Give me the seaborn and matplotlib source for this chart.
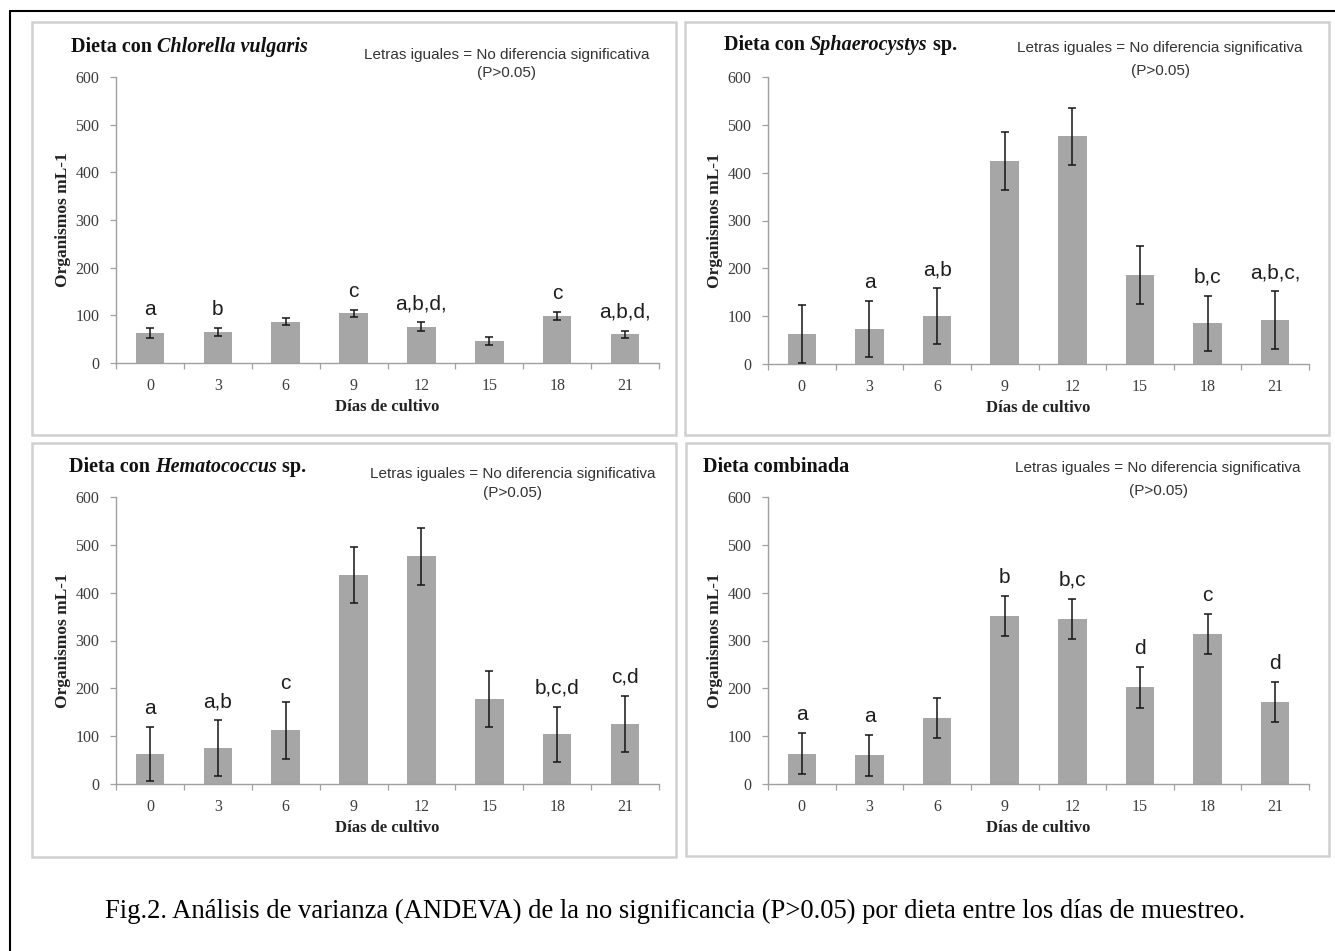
import numpy as np
import pandas as pd
import matplotlib
matplotlib.use("Agg")
import matplotlib.pyplot as plt
import seaborn as sns
from matplotlib.patches import Rectangle
from matplotlib.lines import Line2D

# ---------------- data ----------------
days = ["0", "3", "6", "9", "12", "15", "18", "21"]

chlorella_mean = [63, 65, 87, 104, 76, 46, 99, 60]
chlorella_sd = [10, 8, 8, 8, 9, 9, 8, 8]
chlorella_letters = ["a", "b", "", "c", "a,b,d,", "", "c", "a,b,d,"]

sphaero_mean = [63, 73, 100, 424, 476, 186, 85, 92]
sphaero_sd = [60, 59, 58, 60, 60, 60, 58, 60]
sphaero_letters = ["", "a", "a,b", "", "", "", "b,c", "a,b,c,"]

hemato_mean = [63, 75, 112, 437, 476, 178, 104, 125]
hemato_sd = [57, 58, 59, 59, 60, 59, 58, 59]
hemato_letters = ["a", "a,b", "c", "", "", "", "b,c,d", "c,d"]

comb_mean = [63, 60, 138, 352, 345, 202, 314, 172]
comb_sd = [43, 43, 42, 42, 42, 43, 42, 42]
comb_letters = ["a", "a", "", "b", "b,c", "d", "c", "d"]

titles = [
    ("Dieta con ", "Chlorella vulgaris", ""),
    ("Dieta con ", "Sphaerocystys", " sp."),
    ("Dieta con ", "Hematococcus", " sp."),
    ("Dieta combinada", "", ""),
]
note_line1 = "Letras iguales = No diferencia significativa"
note_line2 = "(P>0.05)"
xlabel = "Días de cultivo"
ylabel = "Organismos mL-1"
yticks = [0, 100, 200, 300, 400, 500, 600]
caption = ("Fig.2. Análisis de varianza (ANDEVA) de la no significancia (P>0.05) "
           "por dieta entre los días de muestreo.")

# ---------------- style ----------------
sns.set_style("white")
plt.rcParams["font.family"] = ["Liberation Serif", "DejaVu Serif"]

W, H = 1335, 951
fig = plt.figure(figsize=(W / 100, H / 100), dpi=100)
fig.patch.set_facecolor("white")

overlay = fig.add_axes([0, 0, 1, 1])
overlay.set_xlim(0, W)
overlay.set_ylim(H, 0)
overlay.axis("off")

# panel layout in pixels
axes_px = [(116, 77, 659, 363), (768, 77, 1309, 364),
           (116, 497, 659, 784), (768, 497, 1309, 784)]
boxes_px = [(32, 22, 676, 435), (685, 22, 1329, 435),
            (32, 443, 676, 857), (686, 443, 1329, 856)]
title_pos = [(71, 47), (724, 45), (69, 467), (703, 467)]
note_pos = [(507, 55, 73), (1160, 48, 71), (513, 474, 493), (1158, 468, 491)]

panels = [
    (chlorella_mean, chlorella_sd, chlorella_letters),
    (sphaero_mean, sphaero_sd, sphaero_letters),
    (hemato_mean, hemato_sd, hemato_letters),
    (comb_mean, comb_sd, comb_letters),
]

bar_color = "#a6a6a6"
axis_color = "#a0a0a0"
tick_label_color = "#3c3c3c"

# outer frame lines (left and top)
overlay.add_line(Line2D([10, 10], [11, H], color="black", lw=1.5))
overlay.add_line(Line2D([10, W], [11, 11], color="black", lw=1.5))

for k, ((mean, sd, letters), (l, t, r, b), box) in enumerate(zip(panels, axes_px, boxes_px)):
    # panel box
    bx0, by0, bx1, by1 = box
    overlay.add_patch(Rectangle((bx0, by0), bx1 - bx0, by1 - by0, fill=False,
                                edgecolor="#d0d0d0", lw=1.8))

    ax = fig.add_axes([l / W, 1 - b / H, (r - l) / W, (b - t) / H])
    ax.set_facecolor("none")
    df = pd.DataFrame({"day": days, "mean": mean, "sd": sd})
    sns.barplot(data=df, x="day", y="mean", order=days, color=bar_color,
                saturation=1, width=0.42, errorbar=None, ax=ax, edgecolor="none")
    xs = np.arange(len(days))
    ax.errorbar(xs, df["mean"], yerr=df["sd"], fmt="none", ecolor="#151515",
                elinewidth=1.1, capsize=3, capthick=1.1, zorder=3)
    for i, lab in enumerate(letters):
        if lab:
            ax.annotate(lab, xy=(xs[i], mean[i] + sd[i]), xytext=(0, 13),
                        textcoords="offset pixels", ha="center", va="baseline",
                        fontsize=15, family="Liberation Sans", color="#1e1e1e")

    ax.set_ylim(0, 600)
    ax.set_xlim(-0.5, len(days) - 0.5)
    ax.set_yticks(yticks)
    ax.set_yticklabels([str(v) for v in yticks])
    ax.set_xticks(xs)
    ax.set_xticklabels(days)
    ax.set_xticks(np.arange(-0.5, len(days), 1), minor=True)
    ax.tick_params(axis="y", which="major", length=4, width=0.9, color=axis_color,
                   pad=8, labelsize=11.5, labelcolor=tick_label_color, left=True)
    ax.tick_params(axis="x", which="major", length=0, pad=11, labelsize=11.5,
                   labelcolor=tick_label_color)
    ax.tick_params(axis="x", which="minor", length=4, width=0.9, color=axis_color,
                   direction="out", bottom=True)
    for side in ("top", "right"):
        ax.spines[side].set_visible(False)
    for side in ("left", "bottom"):
        ax.spines[side].set_color(axis_color)
        ax.spines[side].set_linewidth(1.0)

    ax.set_xlabel(xlabel, fontsize=12, fontweight="bold", color="#222222")
    ax.xaxis.set_label_coords(0.5, -44 / (b - t))
    ax.xaxis.label.set_va("center")
    ax.set_ylabel(ylabel, fontsize=12.5, fontweight="bold", color="#222222")
    ax.yaxis.set_label_coords(-53 / (r - l), 0.5)
    ax.yaxis.label.set_va("center")

    # title (mixed bold / bold italic)
    tx, ty = title_pos[k]
    p1, p2, p3 = titles[k]
    t1 = overlay.text(tx, ty, p1, fontsize=14.5, fontweight="bold", va="center",
                      ha="left", color="#111111")
    prev = t1
    if p2:
        t2 = overlay.annotate(p2, xy=(1, 0), xycoords=prev, va="bottom", ha="left",
                              fontsize=14.5, fontweight="bold", fontstyle="italic",
                              color="#111111")
        prev = t2
    if p3:
        overlay.annotate(p3, xy=(1, 0), xycoords=prev, va="bottom", ha="left",
                         fontsize=14.5, fontweight="bold", color="#111111")

    nx, ny1, ny2 = note_pos[k]
    overlay.text(nx, ny1, note_line1, fontsize=11, family="Liberation Sans",
                 color="#333333", ha="center", va="center")
    overlay.text(nx, ny2, note_line2, fontsize=11, family="Liberation Sans",
                 color="#333333", ha="center", va="center")

overlay.text(105, 918, caption, fontsize=19.2, ha="left", va="baseline",
             color="black")

fig.savefig("out.png", dpi=100, facecolor="white")
